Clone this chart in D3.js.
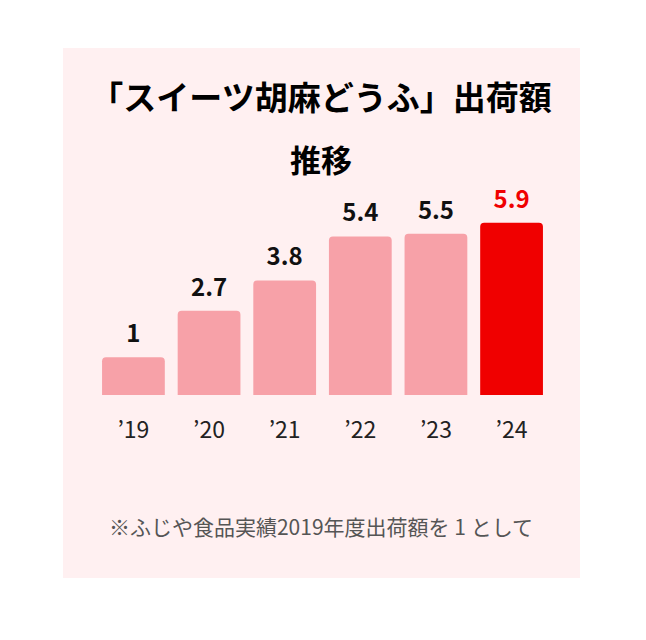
<!DOCTYPE html>
<html><head><meta charset="utf-8">
<script src="https://cdn.jsdelivr.net/npm/d3@7"></script>
<style>body{margin:0;background:#fff;font-family:"Noto Sans CJK JP","Noto Sans",sans-serif;}</style>
</head><body>
<svg width="646" height="640"></svg>
<script>
const years = ["’19", "’20", "’21", "’22", "’23", "’24"];
const values = [1, 2.7, 3.8, 5.4, 5.5, 5.9];
const labels = ["1", "2.7", "3.8", "5.4", "5.5", "5.9"];

const svg = d3.select("svg");
svg.append("rect").attr("x", 63).attr("y", 48).attr("width", 517).attr("height", 530).attr("fill", "#fff0f1");

svg.append("text").attr("x", 321).attr("y", 110).attr("text-anchor", "middle")
    .style("font-size", "33px").style("font-weight", "bold").text("「スイーツ胡麻どうふ」出荷額");
svg.append("text").attr("x", 321).attr("y", 172).attr("text-anchor", "middle")
    .style("font-size", "31px").style("font-weight", "bold").text("推移");

const base = 395;
const x = d3.scaleBand().domain(years).range([96, 549]).paddingInner(0.17).paddingOuter(0.08);
const y = d3.scaleLinear().domain([-0.37, 6]).range([base, base - 175]);

svg.selectAll("path.bar").data(values).enter().append("path")
    .attr("class", "bar")
    .attr("d", function (d, i) {
        const x0 = x(years[i]), w = x.bandwidth(), t = y(d), r = 4;
        return `M${x0},${base}V${t + r}Q${x0},${t} ${x0 + r},${t}H${x0 + w - r}Q${x0 + w},${t} ${x0 + w},${t + r}V${base}Z`;
    })
    .style("fill", function (d, i) { return i === 5 ? "#f00000" : "#f7a1a8"; });

svg.selectAll("text.val").data(values).enter().append("text")
    .attr("x", function (d, i) { return x(years[i]) + x.bandwidth() / 2; })
    .attr("y", function (d) { return y(d) - 15; })
    .attr("text-anchor", "middle")
    .style("font-size", "24px").style("font-weight", "bold")
    .style("fill", function (d, i) { return i === 5 ? "#f00000" : "#111"; })
    .text(function (d, i) { return labels[i]; });

svg.selectAll("text.yr").data(years).enter().append("text")
    .attr("x", function (d) { return x(d) + x.bandwidth() / 2; })
    .attr("y", 438).attr("text-anchor", "middle")
    .style("font-size", "23px").style("fill", "#222")
    .text(function (d) { return d; });

svg.append("text").attr("x", 321).attr("y", 535).attr("text-anchor", "middle")
    .style("font-size", "21px").style("fill", "#555")
    .text("※ふじや食品実績2019年度出荷額を 1 として");
</script>
</body></html>
